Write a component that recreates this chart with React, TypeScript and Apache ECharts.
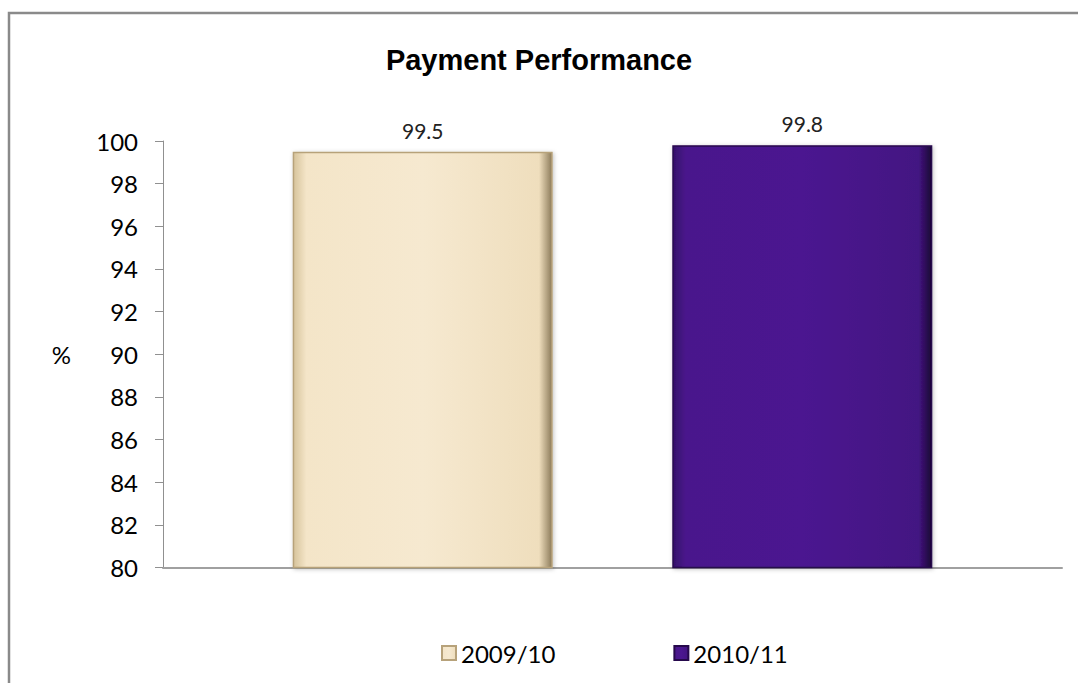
import React, { useEffect, useRef } from "react";
import * as echarts from "echarts";

const categories = [""];
const seriesNames = ["2009/10", "2010/11"];
const values2009 = [99.5];
const values2010 = [99.8];
const yTicks = { min: 80, max: 100, interval: 2 };

export default function App() {
  const ref = useRef<HTMLDivElement>(null);
  useEffect(() => {
    if (!ref.current) return;
    const chart = echarts.init(ref.current, null, { renderer: "svg" });
    const labelFont = "Lato, 'Open Sans', sans-serif";
    chart.setOption({
      animation: false,
      backgroundColor: "#ffffff",
      title: {
        text: "Payment Performance",
        left: "center",
        top: 40,
        textStyle: {
          fontFamily: "'Liberation Sans', Arial, sans-serif",
          fontWeight: "bold",
          fontSize: 29,
          color: "#000",
        },
      },
      graphic: [
        {
          type: "polyline",
          shape: { points: [[9, 700], [9, 13], [1090, 13]] },
          style: { stroke: "#8a8a8a", lineWidth: 2.5, fill: "none" },
          silent: true,
        },
      ],
      legend: {
        data: seriesNames,
        left: 436,
        top: 636,
        icon: "rect",
        itemWidth: 14,
        itemHeight: 14,
        itemGap: 118,
        textStyle: { fontFamily: labelFont, fontSize: 24, color: "#000" },
      },
      grid: { left: 163, right: 16, top: 141, bottom: 115.5, containLabel: false },
      xAxis: {
        type: "category",
        data: categories,
        axisLine: { lineStyle: { color: "#a0a0a0", width: 2 } },
        axisTick: { show: false },
        axisLabel: { show: false },
      },
      yAxis: {
        type: "value",
        min: yTicks.min,
        max: yTicks.max,
        interval: yTicks.interval,
        name: "%",
        nameLocation: "middle",
        nameRotate: 0,
        nameGap: 92,
        nameTextStyle: { fontFamily: labelFont, fontSize: 24, color: "#000" },
        axisLine: { show: true, lineStyle: { color: "#909090", width: 1 } },
        axisTick: { show: true, length: 8, lineStyle: { color: "#909090" } },
        axisLabel: { fontFamily: labelFont, fontSize: 24, color: "#000", margin: 25 },
        splitLine: { show: false },
      },
      series: [
        {
          name: seriesNames[0],
          type: "bar",
          data: values2009,
          barWidth: 260,
          barGap: "46%",
          itemStyle: {
            color: new echarts.graphic.LinearGradient(0, 0, 1, 0, [
              { offset: 0, color: "#d6c39b" },
              { offset: 0.05, color: "#f4e5c8" },
              { offset: 0.5, color: "#f6e9d0" },
              { offset: 0.95, color: "#efdebd" },
              { offset: 1, color: "#8c7b5a" },
            ]),
            borderColor: "#b7a27a",
            borderWidth: 1.5,
            shadowColor: "rgba(0,0,0,0.25)",
            shadowBlur: 4,
            shadowOffsetX: 1,
            shadowOffsetY: 1,
          },
          label: {
            show: true,
            position: "top",
            distance: 11,
            fontFamily: labelFont,
            fontSize: 21,
            color: "#222",
          },
        },
        {
          name: seriesNames[1],
          type: "bar",
          data: values2010,
          barWidth: 260,
          itemStyle: {
            color: new echarts.graphic.LinearGradient(0, 0, 1, 0, [
              { offset: 0, color: "#35106a" },
              { offset: 0.05, color: "#4a188c" },
              { offset: 0.5, color: "#4b1790" },
              { offset: 0.95, color: "#431582" },
              { offset: 1, color: "#1a0534" },
            ]),
            borderColor: "#26094c",
            borderWidth: 1.5,
            shadowColor: "rgba(0,0,0,0.25)",
            shadowBlur: 4,
            shadowOffsetX: 1,
            shadowOffsetY: 1,
          },
          label: {
            show: true,
            position: "top",
            distance: 11,
            fontFamily: labelFont,
            fontSize: 21,
            color: "#222",
          },
        },
      ],
    });
    return () => chart.dispose();
  }, []);
  return (
    <div
      ref={ref}
      style={{ position: "fixed", left: 0, top: 0, width: 1078, height: 683 }}
    />
  );
}
